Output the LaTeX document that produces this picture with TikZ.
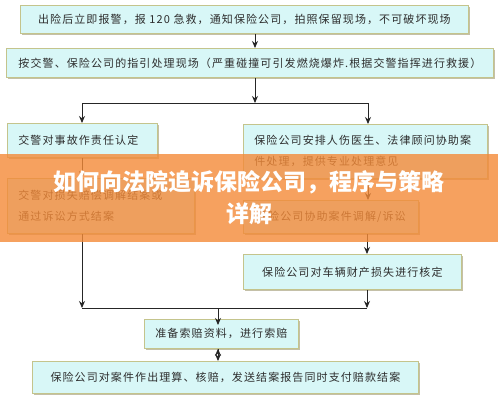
\documentclass[tikz,border=0pt]{standalone}
\usepackage{fontspec}
\newfontfamily\cjk{Noto Sans CJK SC}[LetterSpace=10]
\newfontfamily\cjktitle{Noto Sans CJK SC}
\usetikzlibrary{arrows.meta,shadows}
\definecolor{boxfill}{RGB}{216,247,247}
\definecolor{boxline}{RGB}{196,196,140}
\definecolor{shadowc}{RGB}{196,192,168}
\definecolor{textgray}{RGB}{45,45,45}
\definecolor{bannerc}{RGB}{244,138,56}
\tikzset{
  box/.style={draw=boxline, fill=boxfill, line width=0.8pt, anchor=north west,
    inner xsep=11pt, inner ysep=0pt, text=textgray,
    font=\cjk\fontsize{11}{21}\selectfont,
    drop shadow={shadow xshift=2pt, shadow yshift=-2pt, fill=shadowc, opacity=1}},
  wire/.style={line width=1pt, draw=black!85}
}
\begin{document}
\begin{tikzpicture}[x=1pt, y=-1pt, ->, >={Stealth[length=7pt,width=6pt]}]
\useasboundingbox (0,0) rectangle (498,400);
\fill[white] (0,0) rectangle (498,400);
% steps
\node (1)[box, minimum width=448, minimum height=28, align=center] at (20,5) {出险后立即报警，报 120 急救，通知保险公司，拍照保留现场，不可破坏现场};
\node (2)[box, minimum width=487, minimum height=29, align=center] at (6,48) {按交警、保险公司的指引处理现场（严重碰撞可引发燃烧爆炸.根据交警指挥进行救援）};
\node (3)[box, minimum height=34, text width=128, align=left] at (7,123) {交警对事故作责任认定};
\node (4)[box, minimum height=54, text width=222, align=left] at (243,124) {保险公司安排人伤医生、法律顾问协助案\\件处理，提供专业处理意见};
\node (5)[box, minimum height=55, text width=165, align=left] at (7,178) {交警对损失赔偿调解结案或\\通过诉讼方式结案};
\node (6)[box, minimum width=175, minimum height=33, align=center] at (243,200) {保险公司协助案件调解/诉讼};
\node (7)[box, minimum width=218, minimum height=35, align=center] at (243,254) {保险公司对车辆财产损失进行核定};
\node (8)[box, minimum width=154, minimum height=29, align=center] at (144,319) {准备索赔资料，进行索赔};
\node (9)[box, minimum width=386, minimum height=32, align=center] at (32,361) {保险公司对案件作出理算、核赔，发送结案报告同时支付赔款结案};
% forks and joins
\coordinate (f1) at (255,103);
\coordinate (fl) at (82,103);
\coordinate (fr) at (368,103);
\coordinate (jl) at (82,308);
\coordinate (jr) at (367,308);
\coordinate (jm) at (218,308);
\path[wire] (1.south -| f1) edge (2.north -| f1)
            (2.south -| f1) edge (f1)
            (fl) edge (3.north -| fl)
            (fr) edge (4.north -| fr)
            (3.south -| fl) edge (5.north -| fl)
            (4.south -| fr) edge (6.north -| fr)
            (6.south -| jr) edge (7.north -| jr)
            (5.south -| jl) edge (jl)
            (7.south -| jr) edge (jr)
            (jm) edge[shorten >=-6pt] (8.north -| jm)
            (8.south -| jm) edge (9.north -| jm);
\draw[wire, -] (fl) -- (fr);
\draw[wire, -] (jl) -- (jr);
% title banner
\node (banner)[fill=bannerc, fill opacity=0.8, text opacity=1, text=white,
  minimum width=498, minimum height=88, inner sep=0pt, align=center,
  font=\cjktitle\bfseries\fontsize{23}{32}\selectfont] at (249,198)
  {如何向法院追诉保险公司，程序与策略\\详解};
\end{tikzpicture}
\end{document}
